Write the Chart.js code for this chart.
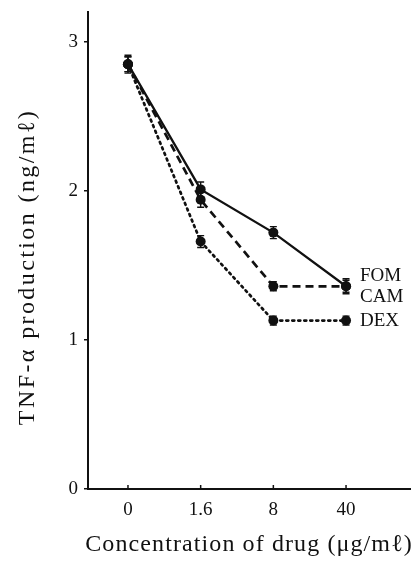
<!DOCTYPE html>
<html>
<head>
<meta charset="utf-8">
<script src="https://cdn.jsdelivr.net/npm/chart.js@4"></script>
<style>
  html, body { margin: 0; padding: 0; background: #fff; }
  #wrap { width: 419px; height: 561px; }
</style>
</head>
<body>
<div id="wrap"><canvas id="tnfChart" width="419" height="561"></canvas></div>
<script>
const concentrations = ['0', '1.6', '8', '40'];
const fomValues = [2.85, 2.01, 1.72, 1.36];
const camValues = [2.85, 1.94, 1.36, 1.36];
const dexValues = [2.85, 1.66, 1.13, 1.13];
const fomErrors = [0.06, 0.05, 0.04, 0.05];
const camErrors = [0.05, 0.05, 0.03, 0.04];
const dexErrors = [0.05, 0.04, 0.03, 0.03];
const yTickValues = [0, 1, 2, 3];
const seriesNames = ['FOM', 'CAM', 'DEX'];
const xTitle = 'Concentration of drug (μg/mℓ)';
const yTitle = 'TNF-α production (ng/mℓ)';

const serif = '"Liberation Serif", "DejaVu Serif", serif';
const ink = '#111';

function toPoints(values) {
    return values.map((v, i) => ({ x: i, y: v }));
}

// vertical error bars with small caps
const errorBars = {
    id: 'errorBars',
    afterDatasetsDraw(chart) {
        const ctx = chart.ctx;
        const yScale = chart.scales.y;
        ctx.save();
        ctx.strokeStyle = ink;
        ctx.lineWidth = 1.4;
        ctx.setLineDash([]);
        chart.data.datasets.forEach((ds, di) => {
            const meta = chart.getDatasetMeta(di);
            meta.data.forEach((pt, i) => {
                const v = ds.data[i].y;
                const e = ds.errors[i];
                const yTop = yScale.getPixelForValue(v + e);
                const yBot = yScale.getPixelForValue(v - e);
                ctx.beginPath();
                ctx.moveTo(pt.x, yTop);
                ctx.lineTo(pt.x, yBot);
                ctx.moveTo(pt.x - 3.5, yTop);
                ctx.lineTo(pt.x + 3.5, yTop);
                ctx.moveTo(pt.x - 3.5, yBot);
                ctx.lineTo(pt.x + 3.5, yBot);
                ctx.stroke();
            });
        });
        ctx.restore();
    }
};

// inward x ticks, series names, and axis titles
const axisExtras = {
    id: 'axisExtras',
    afterDraw(chart) {
        const ctx = chart.ctx;
        const x = chart.scales.x;
        const y = chart.scales.y;
        const base = y.getPixelForValue(0);
        ctx.save();
        ctx.strokeStyle = ink;
        ctx.lineWidth = 1.5;
        concentrations.forEach((c, i) => {
            const px = x.getPixelForValue(i);
            ctx.beginPath();
            ctx.moveTo(px, base);
            ctx.lineTo(px, base - 4);
            ctx.stroke();
        });

        ctx.fillStyle = ink;
        ctx.font = '19px ' + serif;
        ctx.textBaseline = 'middle';
        ctx.textAlign = 'left';
        const lx = x.getPixelForValue(3) + 14;
        const lastVals = [fomValues[3], camValues[3], dexValues[3]];
        const shifts = [-10, 11, 0];
        seriesNames.forEach((name, i) => {
            ctx.fillText(name, lx, y.getPixelForValue(lastVals[i]) + shifts[i]);
        });

        ctx.font = '24px ' + serif;
        ctx.textAlign = 'center';
        ctx.letterSpacing = '1.1px';
        ctx.fillText(xTitle, (x.left + x.right) / 2, 545);

        ctx.translate(28, 267);
        ctx.rotate(-Math.PI / 2);
        ctx.letterSpacing = '2.4px';
        ctx.fillText(yTitle, 0, 0);
        ctx.restore();
    }
};

const ctx = document.getElementById('tnfChart').getContext('2d');
new Chart(ctx, {
    type: 'line',
    data: {
        datasets: [
            {
                label: seriesNames[0],
                data: toPoints(fomValues),
                errors: fomErrors,
                borderColor: ink,
                borderWidth: 2.3,
                backgroundColor: ink,
                pointRadius: 5,
                pointBackgroundColor: ink,
                pointBorderWidth: 0
            },
            {
                label: seriesNames[1],
                data: toPoints(camValues),
                errors: camErrors,
                borderColor: ink,
                borderWidth: 2.7,
                borderDash: [8, 5],
                backgroundColor: ink,
                pointRadius: 5,
                pointBackgroundColor: ink,
                pointBorderWidth: 0
            },
            {
                label: seriesNames[2],
                data: toPoints(dexValues),
                errors: dexErrors,
                borderColor: ink,
                borderWidth: 2.7,
                borderDash: [2, 4],
                borderCapStyle: 'round',
                backgroundColor: ink,
                pointRadius: 5,
                pointBackgroundColor: ink,
                pointBorderWidth: 0
            }
        ]
    },
    options: {
        responsive: false,
        animation: false,
        layout: { padding: { top: 12, right: 9, left: 0, bottom: 0 } },
        plugins: {
            legend: { display: false },
            tooltip: { enabled: false }
        },
        scales: {
            x: {
                type: 'linear',
                min: -0.55,
                max: 3.88,
                afterBuildTicks(scale) {
                    scale.ticks = concentrations.map((c, i) => ({ value: i }));
                },
                afterFit(scale) { scale.height = 72; },
                grid: { display: false, drawTicks: false },
                border: { display: true, color: ink, width: 2 },
                ticks: {
                    padding: 10,
                    color: ink,
                    font: { family: serif, size: 19 },
                    callback: (v) => concentrations[v]
                }
            },
            y: {
                min: 0,
                max: 3.2,
                afterBuildTicks(scale) {
                    scale.ticks = yTickValues.map(v => ({ value: v }));
                },
                afterFit(scale) {
                    scale.width = 88;
                    scale.paddingTop = 0;
                },
                grid: {
                    drawOnChartArea: false,
                    drawTicks: true,
                    tickLength: 4,
                    color: ink,
                    lineWidth: 1.5
                },
                border: { display: true, color: ink, width: 2 },
                ticks: {
                    padding: 6,
                    color: ink,
                    font: { family: serif, size: 19 }
                }
            }
        }
    },
    plugins: [errorBars, axisExtras]
});
</script>
</body>
</html>
